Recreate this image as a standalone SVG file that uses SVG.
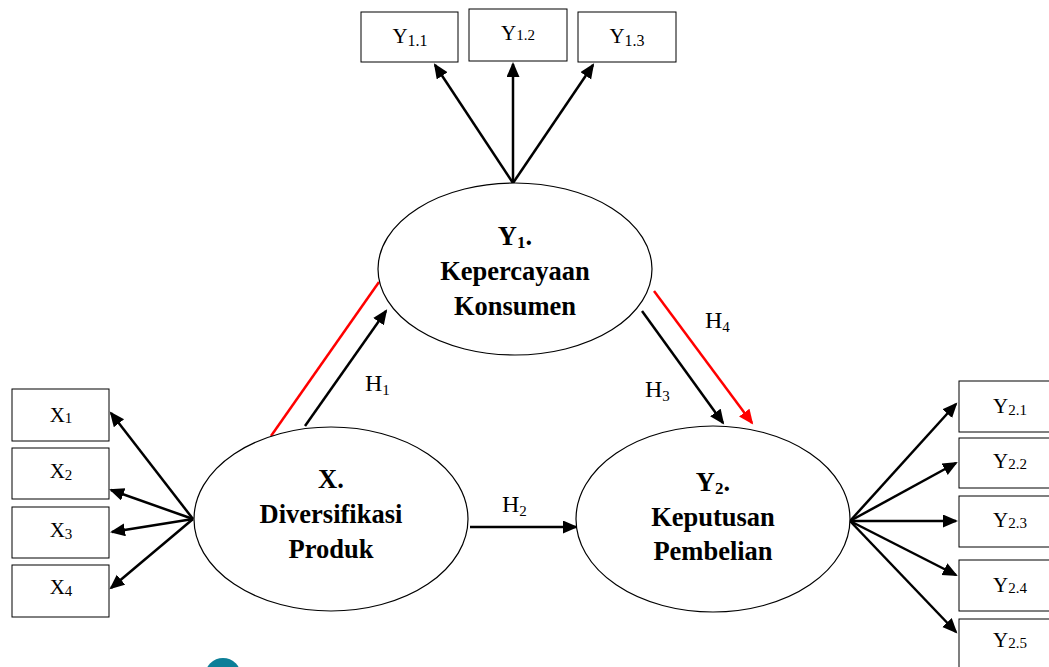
<svg xmlns="http://www.w3.org/2000/svg" width="1049" height="667" viewBox="0 0 1049 667">
<style>
.box{fill:#fff;stroke:#000;stroke-width:1}
.ell{fill:#fff;stroke:#000;stroke-width:1.2}
.lbl{font-family:"Liberation Serif","Times New Roman",serif;fill:#000;text-anchor:middle}
.hlb{font-family:"Liberation Serif","Times New Roman",serif;fill:#000;font-size:24px}
.big{font-size:26.5px;font-weight:bold}
.bsub{font-size:17px}
.ind{font-size:21px}
.sub{font-size:15px}
.sub16{font-size:16px}
.ar{stroke:#000;stroke-width:2.5;fill:none;marker-end:url(#ah)}
.red{stroke:#f00;stroke-width:2.5;fill:none}
</style>
<defs>
<marker id="ah" markerUnits="userSpaceOnUse" markerWidth="16" markerHeight="14" refX="13" refY="6.5" orient="auto">
<path d="M0,0 L15,6.5 L0,13 z" fill="#000"/>
</marker>
<marker id="ahr" markerUnits="userSpaceOnUse" markerWidth="16" markerHeight="14" refX="13" refY="6.5" orient="auto">
<path d="M0,0 L15,6.5 L0,13 z" fill="#f00"/>
</marker>
</defs>
<rect width="1049" height="667" fill="#fff"/>

<g id="connectors">
<line class="ar" x1="513" y1="183" x2="435" y2="65"/>
<line class="ar" x1="513" y1="183" x2="513" y2="64"/>
<line class="ar" x1="513" y1="183" x2="593" y2="65"/>
<line class="ar" x1="193" y1="519" x2="111" y2="413"/>
<line class="ar" x1="193" y1="519" x2="111" y2="490"/>
<line class="ar" x1="193" y1="519" x2="112" y2="532"/>
<line class="ar" x1="193" y1="519" x2="111" y2="588"/>
<line class="ar" x1="850" y1="521" x2="956" y2="404"/>
<line class="ar" x1="850" y1="521" x2="956" y2="463"/>
<line class="ar" x1="850" y1="521" x2="956" y2="521"/>
<line class="ar" x1="850" y1="521" x2="956" y2="575"/>
<line class="ar" x1="850" y1="521" x2="956" y2="632"/>
<line class="ar" x1="305" y1="426" x2="386" y2="311"/>
<line class="red" x1="271" y1="436" x2="379" y2="282"/>
<line class="ar" x1="642" y1="311" x2="723" y2="423"/>
<line class="red" x1="654" y1="291" x2="752" y2="423" style="marker-end:url(#ahr)"/>
<line class="ar" x1="470" y1="527" x2="576" y2="527"/>
<text class="hlb" x="365" y="391">H<tspan class="sub" dy="4">1</tspan></text>
<text class="hlb" x="502" y="512">H<tspan class="sub" dy="4">2</tspan></text>
<text class="hlb" x="645" y="397">H<tspan class="sub" dy="4">3</tspan></text>
<text class="hlb" x="705" y="328">H<tspan class="sub" dy="4">4</tspan></text>
</g>

<g id="Y1">
<ellipse class="ell" cx="515" cy="269" rx="137" ry="86"/>
<text class="lbl big" x="515" y="245">Y<tspan class="bsub" dy="3">1</tspan><tspan dy="-3">.</tspan></text>
<text class="lbl big" x="515" y="280">Kepercayaan</text>
<text class="lbl big" x="515" y="315">Konsumen</text>
</g>
<g id="X">
<ellipse class="ell" cx="331" cy="519" rx="137" ry="92"/>
<text class="lbl big" x="331" y="488">X.</text>
<text class="lbl big" x="331" y="523">Diversifikasi</text>
<text class="lbl big" x="331" y="558">Produk</text>
</g>
<g id="Y2">
<ellipse class="ell" cx="713" cy="519" rx="137" ry="93"/>
<text class="lbl big" x="713" y="491">Y<tspan class="bsub" dy="3">2</tspan><tspan dy="-3">.</tspan></text>
<text class="lbl big" x="713" y="526">Keputusan</text>
<text class="lbl big" x="713" y="560">Pembelian</text>
</g>

<g id="Y1_1"><rect class="box" x="361" y="12" width="97" height="50"/><text class="lbl ind" x="410" y="43">Y<tspan class="sub16" dy="3">1.1</tspan></text></g>
<g id="Y1_2"><rect class="box" x="469" y="9" width="98" height="52"/><text class="lbl ind" x="518" y="40">Y<tspan class="sub" dy="0">1.2</tspan></text></g>
<g id="Y1_3"><rect class="box" x="578" y="12" width="98" height="50"/><text class="lbl ind" x="627" y="43">Y<tspan class="sub16" dy="3">1.3</tspan></text></g>

<g id="X1"><rect class="box" x="12" y="389" width="97" height="52"/><text class="lbl ind" x="61" y="422">X<tspan class="sub" dy="1">1</tspan></text></g>
<g id="X2"><rect class="box" x="12" y="448" width="97" height="51"/><text class="lbl ind" x="61" y="478">X<tspan class="sub" dy="2">2</tspan></text></g>
<g id="X3"><rect class="box" x="12" y="507" width="97" height="51"/><text class="lbl ind" x="61" y="537">X<tspan class="sub" dy="2">3</tspan></text></g>
<g id="X4"><rect class="box" x="12" y="565" width="97" height="52"/><text class="lbl ind" x="61" y="594">X<tspan class="sub" dy="2">4</tspan></text></g>

<g id="Y2_1"><rect class="box" x="959" y="381" width="98" height="51"/><text class="lbl ind" x="1010" y="413">Y<tspan class="sub" dy="2">2.1</tspan></text></g>
<g id="Y2_2"><rect class="box" x="959" y="438" width="98" height="50"/><text class="lbl ind" x="1010" y="468">Y<tspan class="sub" dy="1">2.2</tspan></text></g>
<g id="Y2_3"><rect class="box" x="959" y="496" width="98" height="51"/><text class="lbl ind" x="1010" y="527">Y<tspan class="sub" dy="1">2.3</tspan></text></g>
<g id="Y2_4"><rect class="box" x="959" y="560" width="98" height="51"/><text class="lbl ind" x="1010" y="592">Y<tspan class="sub" dy="1">2.4</tspan></text></g>
<g id="Y2_5"><rect class="box" x="959" y="619" width="98" height="60"/><text class="lbl ind" x="1010" y="647">Y<tspan class="sub" dy="1">2.5</tspan></text></g>

<circle cx="223" cy="676" r="18" fill="#0c7f98"/>
</svg>
